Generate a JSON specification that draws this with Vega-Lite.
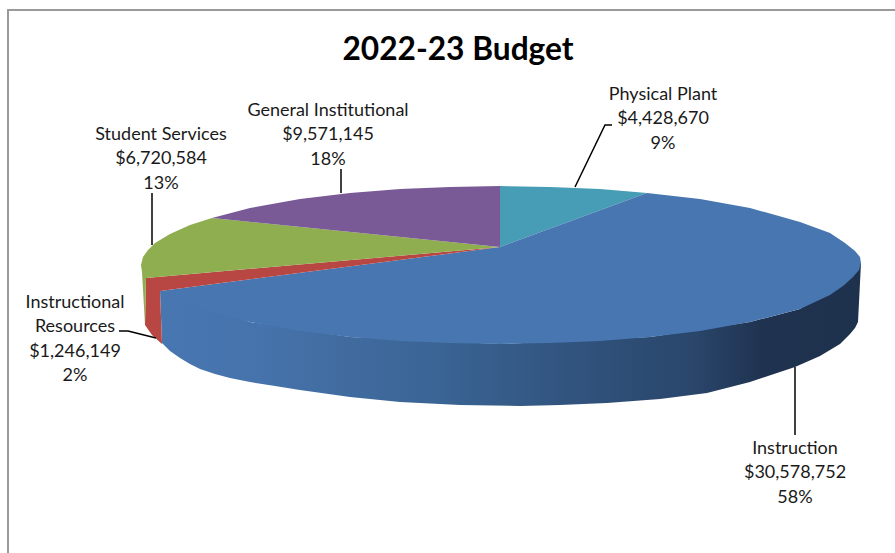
{
  "$schema": "https://vega.github.io/schema/vega-lite/v6.json",
  "width": 895,
  "height": 553,
  "padding": 0,
  "autosize": "none",
  "background": "white",
  "view": {"stroke": null},
  "config": {"axis": {"disable": true}},
  "datasets": {
    "wall": [
      {"i":0,"x":160,"y":290},{"i":1,"x":250,"y":322},{"i":2,"x":350,"y":337},{"i":3,"x":500,"y":344},{"i":4,"x":650,"y":337},{"i":5,"x":750,"y":322},{"i":6,"x":800,"y":309},{"i":7,"x":861,"y":263},
      {"i":8,"x":858,"y":322},{"i":9,"x":855,"y":328},{"i":10,"x":850,"y":334},{"i":11,"x":840,"y":344},{"i":12,"x":820,"y":356},{"i":13,"x":795,"y":367},{"i":14,"x":750,"y":382},{"i":15,"x":707,"y":393},{"i":16,"x":660,"y":399},{"i":17,"x":607,"y":403},{"i":18,"x":560,"y":405},{"i":19,"x":520,"y":406},{"i":20,"x":460,"y":405},{"i":21,"x":400,"y":402},{"i":22,"x":350,"y":397},{"i":23,"x":300,"y":390},{"i":24,"x":275,"y":386},{"i":25,"x":250,"y":382},{"i":26,"x":230,"y":378},{"i":27,"x":215,"y":374},{"i":28,"x":200,"y":369},{"i":29,"x":190,"y":364},{"i":30,"x":180,"y":358},{"i":31,"x":170,"y":351},{"i":32,"x":162,"y":343}
    ],
    "faces": [
      {"s":"Physical Plant","i":0,"x":500,"y":247},{"s":"Physical Plant","i":1,"x":500,"y":186},{"s":"Physical Plant","i":2,"x":550,"y":187},{"s":"Physical Plant","i":3,"x":600,"y":189},{"s":"Physical Plant","i":4,"x":647,"y":193},

      {"s":"Instruction","i":0,"x":500,"y":247},{"s":"Instruction","i":1,"x":647,"y":193},{"s":"Instruction","i":2,"x":700,"y":199},{"s":"Instruction","i":3,"x":750,"y":208},{"s":"Instruction","i":4,"x":800,"y":222},{"s":"Instruction","i":5,"x":830,"y":233},{"s":"Instruction","i":6,"x":845,"y":243},{"s":"Instruction","i":7,"x":855,"y":251},{"s":"Instruction","i":8,"x":860,"y":257},{"s":"Instruction","i":9,"x":861,"y":263},{"s":"Instruction","i":10,"x":859,"y":270},{"s":"Instruction","i":11,"x":853,"y":277},{"s":"Instruction","i":12,"x":843,"y":286},{"s":"Instruction","i":13,"x":830,"y":295},{"s":"Instruction","i":14,"x":800,"y":309},{"s":"Instruction","i":15,"x":750,"y":322},{"s":"Instruction","i":16,"x":700,"y":331},{"s":"Instruction","i":17,"x":650,"y":337},{"s":"Instruction","i":18,"x":600,"y":341},{"s":"Instruction","i":19,"x":550,"y":343},{"s":"Instruction","i":20,"x":500,"y":344},{"s":"Instruction","i":21,"x":450,"y":343},{"s":"Instruction","i":22,"x":400,"y":341},{"s":"Instruction","i":23,"x":350,"y":337},{"s":"Instruction","i":24,"x":300,"y":331},{"s":"Instruction","i":25,"x":250,"y":322},{"s":"Instruction","i":26,"x":210,"y":311},{"s":"Instruction","i":27,"x":180,"y":301},{"s":"Instruction","i":28,"x":160,"y":291},

      {"s":"Instructional Resources","i":0,"x":500,"y":247},{"s":"Instructional Resources","i":1,"x":146,"y":278},{"s":"Instructional Resources","i":2,"x":145,"y":325},{"s":"Instructional Resources","i":3,"x":152,"y":335},{"s":"Instructional Resources","i":4,"x":162,"y":344},{"s":"Instructional Resources","i":5,"x":160,"y":291},

      {"s":"Student Services","i":0,"x":500,"y":247},{"s":"Student Services","i":1,"x":212,"y":218},{"s":"Student Services","i":2,"x":190,"y":225},{"s":"Student Services","i":3,"x":170,"y":234},{"s":"Student Services","i":4,"x":155,"y":243},{"s":"Student Services","i":5,"x":148,"y":250},{"s":"Student Services","i":6,"x":143,"y":257},{"s":"Student Services","i":7,"x":141,"y":265},{"s":"Student Services","i":8,"x":142,"y":272},{"s":"Student Services","i":9,"x":145,"y":325},{"s":"Student Services","i":10,"x":146,"y":278},

      {"s":"General Institutional","i":0,"x":500,"y":247},{"s":"General Institutional","i":1,"x":212,"y":218},{"s":"General Institutional","i":2,"x":250,"y":208},{"s":"General Institutional","i":3,"x":300,"y":199},{"s":"General Institutional","i":4,"x":350,"y":193},{"s":"General Institutional","i":5,"x":400,"y":189},{"s":"General Institutional","i":6,"x":450,"y":187},{"s":"General Institutional","i":7,"x":500,"y":186}
    ],
    "leaders": [
      {"s":"Physical Plant","i":0,"x":575,"y":187},{"s":"Physical Plant","i":1,"x":605,"y":125},{"s":"Physical Plant","i":2,"x":612,"y":125},
      {"s":"Student Services","i":0,"x":152,"y":245},{"s":"Student Services","i":1,"x":152,"y":193},
      {"s":"General Institutional","i":0,"x":341,"y":193},{"s":"General Institutional","i":1,"x":341,"y":169},
      {"s":"Instruction","i":0,"x":795,"y":367},{"s":"Instruction","i":1,"x":795,"y":435},
      {"s":"Instructional Resources","i":0,"x":119,"y":331},{"s":"Instructional Resources","i":1,"x":128,"y":331},{"s":"Instructional Resources","i":2,"x":156,"y":338}
    ],
    "frame": [
      {"i":0,"x":8,"y":553},{"i":1,"x":8,"y":10},{"i":2,"x":895,"y":10}
    ],
    "labels": [
      {"s":"Physical Plant","amount":4428670,"share":9,"label":"Physical Plant\n$4,428,670\n9%","x":663,"y":86},
      {"s":"Instruction","amount":30578752,"share":58,"label":"Instruction\n$30,578,752\n58%","x":795,"y":440},
      {"s":"Instructional Resources","amount":1246149,"share":2,"label":"Instructional\nResources\n$1,246,149\n2%","x":75,"y":294},
      {"s":"Student Services","amount":6720584,"share":13,"label":"Student Services\n$6,720,584\n13%","x":161,"y":126},
      {"s":"General Institutional","amount":9571145,"share":18,"label":"General Institutional\n$9,571,145\n18%","x":328,"y":102}
    ],
    "heading": [{"text":"2022-23 Budget","x":458,"y":60}]
  },
  "encoding": {
    "x": {"field":"x","type":"quantitative","scale":{"domain":[0,895],"nice":false,"zero":false},"axis":null},
    "y": {"field":"y","type":"quantitative","scale":{"domain":[553,0],"nice":false,"zero":false},"axis":null}
  },
  "layer": [
    {
      "data": {"name":"frame"},
      "mark": {"type":"line","stroke":"#9a9a9a","strokeWidth":2,"clip":false},
      "encoding": {"order":{"field":"i"}}
    },
    {
      "data": {"name":"wall"},
      "mark": {
        "type":"line","filled":true,"stroke":null,
        "fill":{"x1":0,"y1":0,"x2":1,"y2":0,"gradient":"linear","stops":[
          {"offset":0,"color":"#4876b0"},
          {"offset":0.14,"color":"#4673ac"},
          {"offset":0.24,"color":"#426da2"},
          {"offset":0.4,"color":"#3a6494"},
          {"offset":0.63,"color":"#2f5079"},
          {"offset":0.76,"color":"#2a466b"},
          {"offset":0.86,"color":"#1f3350"},
          {"offset":1,"color":"#1e324e"}
        ]}
      },
      "encoding": {"order":{"field":"i"}}
    },
    {
      "data": {"name":"faces"},
      "mark": {"type":"line","filled":true,"stroke":null},
      "encoding": {
        "order":{"field":"i"},
        "detail":{"field":"s"},
        "fill":{"field":"s","type":"nominal","legend":null,"scale":{
          "domain":["Physical Plant","Instruction","Instructional Resources","Student Services","General Institutional"],
          "range":["#479db5","#4876b0","#b84642","#8fae50","#7a5a96"]}}
      }
    },
    {
      "data": {"name":"leaders"},
      "mark": {"type":"line","stroke":"#000000","strokeWidth":1.5},
      "encoding": {"order":{"field":"i"},"detail":{"field":"s"}}
    },
    {
      "data": {"name":"labels"},
      "mark": {"type":"text","font":"Lato","fontSize":18,"color":"#1a1a1a","align":"center","baseline":"top","lineBreak":"\n","lineHeight":24.4},
      "encoding": {"text":{"field":"label"}}
    },
    {
      "data": {"name":"heading"},
      "mark": {"type":"text","font":"Lato","fontSize":31.7,"fontWeight":"bold","color":"#000000","align":"center","baseline":"alphabetic"},
      "encoding": {"text":{"field":"text"}}
    }
  ]
}
